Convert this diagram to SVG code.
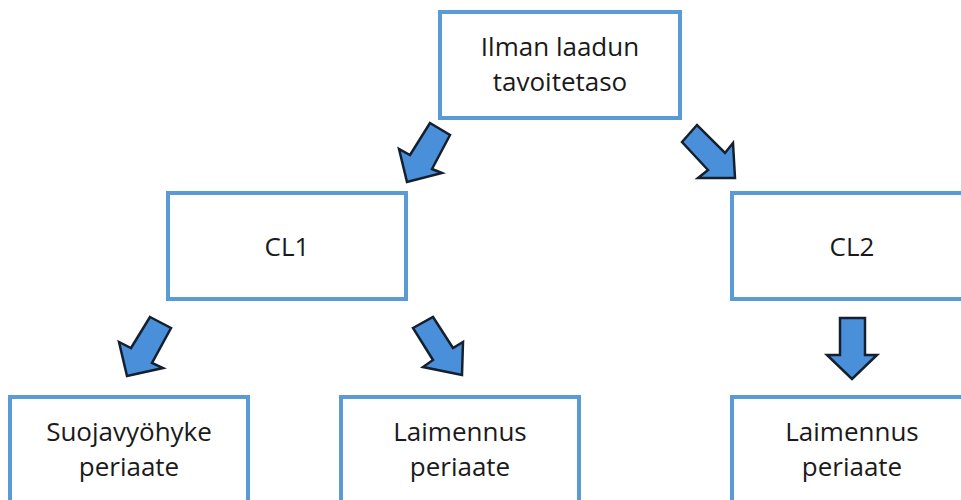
<svg xmlns="http://www.w3.org/2000/svg" width="961" height="500" viewBox="0 0 961 500">
<style>
.box{fill:#fff;stroke:#5B9BD5;stroke-width:4}
.arr{fill:#4A8FDA;stroke:#15202E;stroke-width:2.5;stroke-linejoin:miter}
text{font-family:"Open Sans","Liberation Sans",sans-serif;font-size:26px;fill:#1a1a1a;text-anchor:middle}
</style>
<rect width="961" height="500" fill="#fff"/>
<g id="top"><rect class="box" x="440" y="12" width="240" height="106"/><text x="560" y="56">Ilman laadun</text><text x="560" y="91">tavoitetaso</text></g>
<g id="cl1"><rect class="box" x="168" y="193" width="238" height="106"/><text x="287" y="256">CL1</text></g>
<g id="cl2"><rect class="box" x="732" y="193" width="240" height="106"/><text x="852" y="256">CL2</text></g>
<g id="suoja"><rect class="box" x="10" y="397" width="238" height="120"/><text x="129" y="441">Suojavyöhyke</text><text x="129" y="476">periaate</text></g>
<g id="laim1"><rect class="box" x="341" y="397" width="238" height="120"/><text x="460" y="441">Laimennus</text><text x="460" y="476">periaate</text></g>
<g id="laim2"><rect class="box" x="732" y="397" width="240" height="120"/><text x="852" y="441">Laimennus</text><text x="852" y="476">periaate</text></g>
<g id="connectors">
<polygon class="arr" points="430,123 450,135 432,169 442,173 407,182 399,149 410,155"/>
<polygon class="arr" points="682,142 697,125 725,153 733,143 735,178 698,178 708,170"/>
<polygon class="arr" points="150,317 171,328 152,363 163,368 127,376 119,342 131,348"/>
<polygon class="arr" points="413,328 433,317 453,348 463,342 462,375 423,367 433,360"/>
<polygon class="arr" points="840,318 865,318 865,355 877,355 852,379 827,355 840,355"/>
</g>
</svg>
